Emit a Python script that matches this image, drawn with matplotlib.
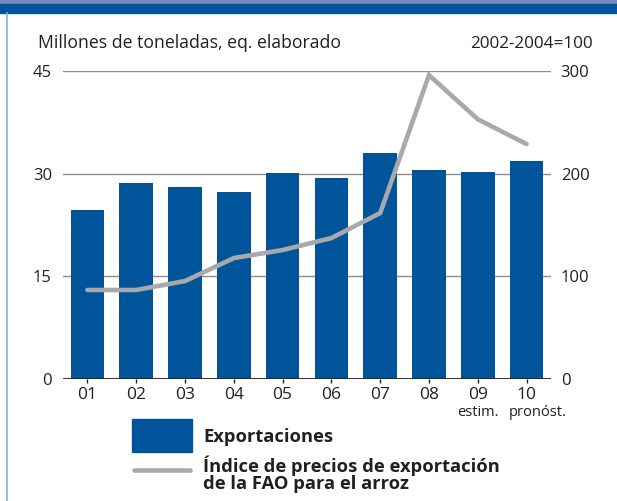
import matplotlib.pyplot as plt
from matplotlib.patches import Rectangle
from matplotlib.lines import Line2D

plt.rcParams['font.family'] = ['Open Sans', 'DejaVu Sans']

# datos
years = ['01', '02', '03', '04', '05', '06', '07', '08', '09', '10']
exports = [24.7, 28.6, 28.0, 27.3, 30.1, 29.4, 33.0, 30.5, 30.2, 31.8]
price_index = [86.7, 86.7, 95.4, 117.8, 125.6, 137.3, 161.6, 296, 253, 228.8]
sub_labels = {8: 'estim.', 9: 'pronóst.'}

blue = '#00559a'
grey = '#a7a9ac'
ink = '#231f20'

fig = plt.figure(figsize=(6.17, 5.01), dpi=100)

# banda superior y borde izquierdo
fig.patches.append(Rectangle((0, 1 - 4 / 501), 1, 4 / 501, transform=fig.transFigure,
                             color='#7a88b8', zorder=0))
fig.patches.append(Rectangle((0, 1 - 13 / 501), 1, 9 / 501, transform=fig.transFigure,
                             color=blue, zorder=0))
fig.add_artist(Line2D([6.5 / 617, 6.5 / 617], [0, 1 - 13 / 501], transform=fig.transFigure,
                      color='#8fb0cc', lw=1.2))

ax = fig.add_axes([63 / 617, 1 - 379 / 501, 488 / 617, 308 / 501])
x = range(len(years))
ax.bar(x, exports, width=0.69, color=blue, zorder=2)
ax.set_xlim(-0.5, len(years) - 0.5)
ax.set_ylim(0, 45)
ax.set_yticks([0, 15, 30, 45])
for v in [15, 30, 45]:
    ax.axhline(v, color='#8c8c8c', lw=1, zorder=1)
ax.axhline(0, color=ink, lw=2, zorder=3)
for s in ax.spines.values():
    s.set_visible(False)
ax.tick_params(axis='y', length=0, pad=8, labelsize=12, colors=ink)
ax.set_xticks(list(x))
ax.set_xticklabels(years)
ax.tick_params(axis='x', length=3, width=1, pad=3, labelsize=12.5, colors=ink)
sub_x = {8: 8, 9: 9.22}
for i, t in sub_labels.items():
    ax.text(sub_x[i], -0.085, t, transform=ax.get_xaxis_transform(), ha='center', va='top',
            fontsize=10.5, color=ink)

ax2 = ax.twinx()
ax2.plot(x, price_index, color=grey, lw=3.3, solid_capstyle='round', solid_joinstyle='miter',
         zorder=4)
ax2.set_ylim(0, 300)
ax2.set_yticks([0, 100, 200, 300])
for s in ax2.spines.values():
    s.set_visible(False)
ax2.tick_params(axis='y', length=0, pad=7, labelsize=12, colors=ink)

fig.text(38 / 617, 1 - 48 / 501, 'Millones de toneladas, eq. elaborado', ha='left',
         va='baseline', fontsize=12.7, color=ink)
fig.text(593 / 617, 1 - 47.5 / 501, '2002-2004=100', ha='right', va='baseline',
         fontsize=12.3, color=ink)

# leyenda
fig.patches.append(Rectangle((132 / 617, 1 - 452 / 501), 60 / 617, 33 / 501,
                             transform=fig.transFigure, color=blue))
fig.add_artist(Line2D([134 / 617, 190 / 617], [1 - 470 / 501, 1 - 470 / 501],
                      transform=fig.transFigure, color=grey, lw=3.3, solid_capstyle='round'))
fig.text(203 / 617, 1 - 442 / 501, 'Exportaciones', ha='left', va='baseline',
         fontsize=13.2, fontweight='bold', color=ink)
fig.text(203 / 617, 1 - 455 / 501, 'Índice de precios de exportación\nde la FAO para el arroz',
         ha='left', va='top', fontsize=13.2, fontweight='bold', color=ink, linespacing=0.95)

fig.savefig('out.png', dpi=100)
